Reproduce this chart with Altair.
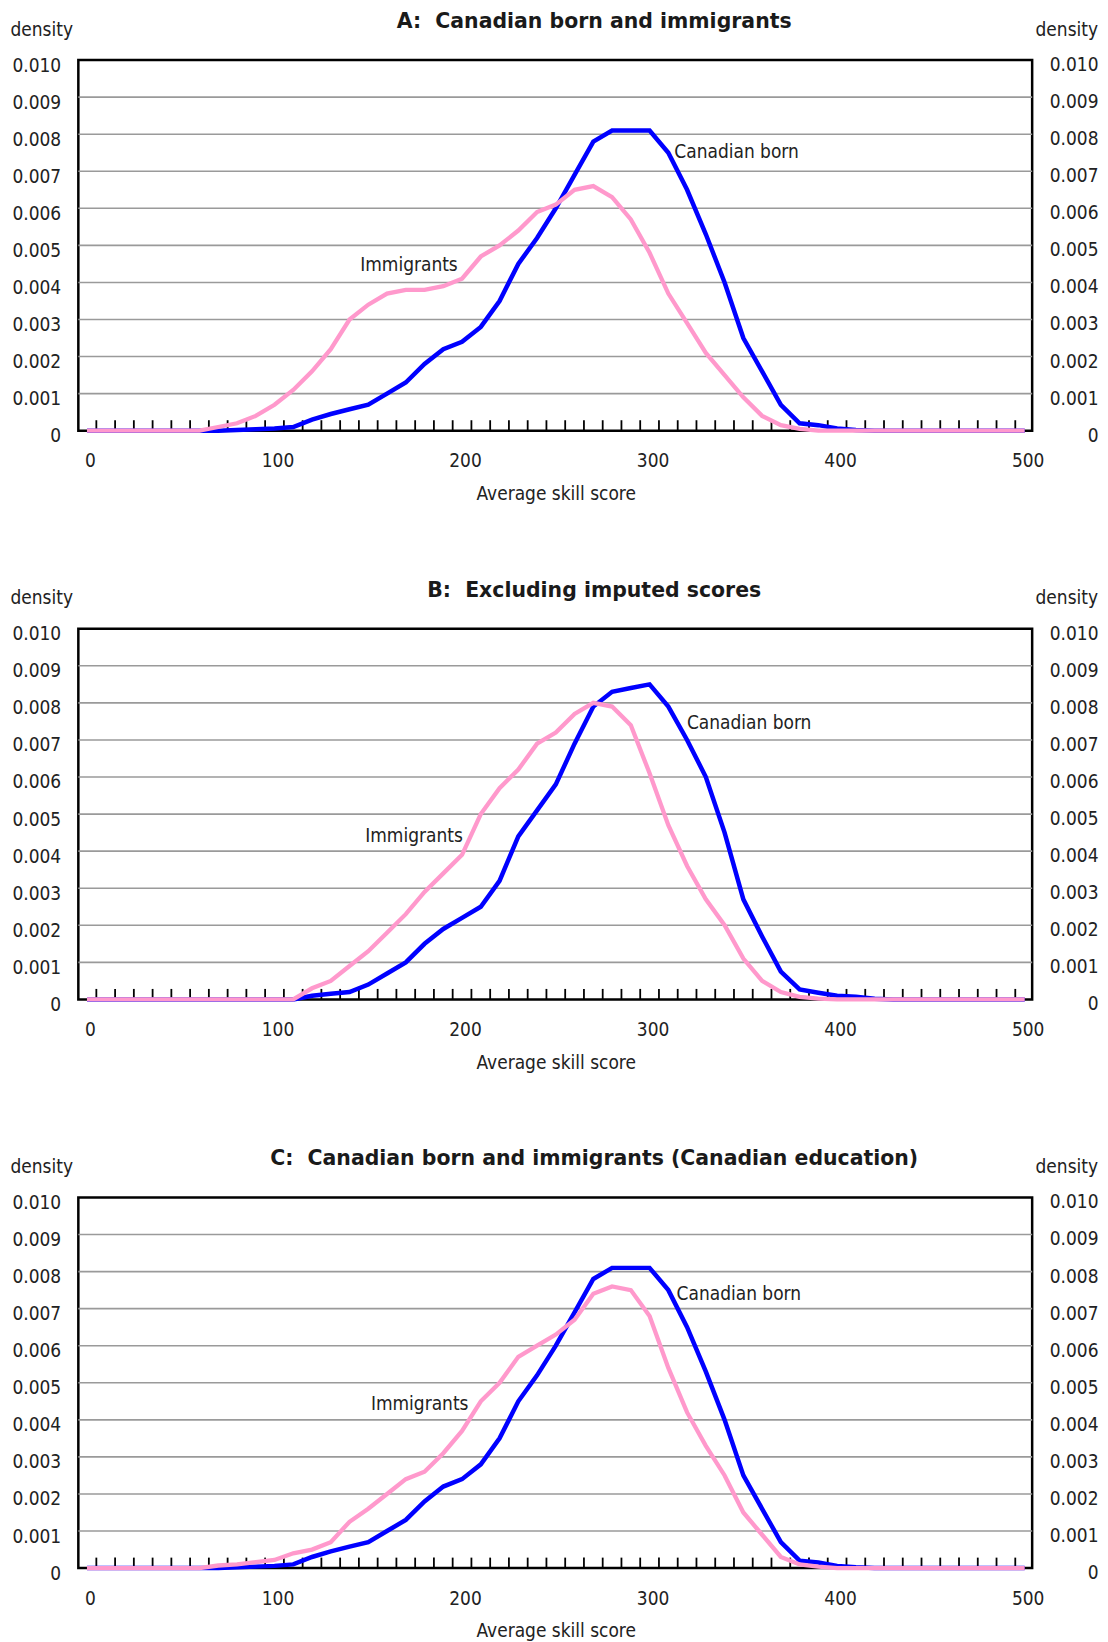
import altair as alt
import pandas as pd

# ---------------- data ----------------
scores = list(range(0, 501, 10))

canadian_born_A = [0, 0, 0, 0, 0, 0, 0, 0, 0.00002, 0.00004,
                   0.00006, 0.0001, 0.0003, 0.00045, 0.00058,
                   0.0007, 0.0010, 0.0013, 0.0018, 0.0022,
                   0.0024, 0.0028, 0.0035, 0.0045, 0.0052,
                   0.0060, 0.0069, 0.0078, 0.0081, 0.0081,
                   0.0081, 0.0075, 0.0065, 0.0053, 0.0040,
                   0.0025, 0.0016, 0.0007, 0.0002, 0.00015,
                   0.00006, 0.00002, 0, 0, 0, 0, 0, 0, 0, 0, 0]
immigrants_A = [0, 0, 0, 0, 0, 0, 0, 0.0001, 0.0002, 0.0004,
                0.0007, 0.0011, 0.0016, 0.0022, 0.0030,
                0.0034, 0.0037, 0.0038, 0.0038, 0.0039,
                0.0041, 0.0047, 0.0050, 0.0054, 0.0059,
                0.0061, 0.0065, 0.0066, 0.0063, 0.0057,
                0.0048, 0.0037, 0.0029, 0.0021, 0.0015,
                0.0009, 0.0004, 0.00015, 0.00005, 0,
                0, 0, 0, 0, 0, 0, 0, 0, 0, 0, 0]

canadian_born_B = [0, 0, 0, 0, 0, 0, 0, 0, 0, 0, 0, 0,
                   0.0001, 0.00015, 0.0002,
                   0.0004, 0.0007, 0.0010, 0.0015, 0.0019,
                   0.0022, 0.0025, 0.0032, 0.0044, 0.0051,
                   0.0058, 0.0069, 0.0079, 0.0083, 0.0084,
                   0.0085, 0.0079, 0.0070, 0.0060, 0.0045,
                   0.0027, 0.0017, 0.00075, 0.00027, 0.00018,
                   0.0001, 0.00007, 0.00002, 0, 0, 0, 0, 0, 0, 0, 0]
immigrants_B = [0, 0, 0, 0, 0, 0, 0, 0, 0, 0, 0, 0,
                0.0003, 0.0005, 0.0009,
                0.0013, 0.0018, 0.0023, 0.0029, 0.0034,
                0.0039, 0.0050, 0.0057, 0.0062, 0.0069,
                0.0072, 0.0077, 0.0080, 0.0079, 0.0074,
                0.0061, 0.0047, 0.0036, 0.0027, 0.0020,
                0.0011, 0.0005, 0.0002, 0.00007, 0.00002,
                0, 0, 0, 0, 0, 0, 0, 0, 0, 0, 0]

canadian_born_C = [0, 0, 0, 0, 0, 0, 0, 0, 0.00002, 0.00004,
                   0.00006, 0.0001, 0.0003, 0.00045, 0.00058,
                   0.0007, 0.0010, 0.0013, 0.0018, 0.0022,
                   0.0024, 0.0028, 0.0035, 0.0045, 0.0052,
                   0.0060, 0.0069, 0.0078, 0.0081, 0.0081,
                   0.0081, 0.0075, 0.0065, 0.0053, 0.0040,
                   0.0025, 0.0016, 0.0007, 0.0002, 0.00015,
                   0.00006, 0.00002, 0, 0, 0, 0, 0, 0, 0, 0, 0]
immigrants_C = [0, 0, 0, 0, 0, 0, 0, 0.00007, 0.0001, 0.00016,
                0.00022, 0.0004, 0.0005, 0.0007, 0.00125,
                0.0016, 0.0020, 0.0024, 0.0026, 0.0031,
                0.0037, 0.0045, 0.0050, 0.0057, 0.0060,
                0.0063, 0.0067, 0.0074, 0.0076, 0.0075,
                0.0068, 0.0054, 0.0042, 0.0033, 0.0025,
                0.0015, 0.0009, 0.0003, 0.0001, 0.00004,
                0, 0, 0, 0, 0, 0, 0, 0, 0, 0, 0]

panel_titles = ["A:\u00a0 Canadian born and immigrants",
                "B:\u00a0 Excluding imputed scores",
                "C:\u00a0 Canadian born and immigrants (Canadian education)"]
x_label_values = [0, 100, 200, 300, 400, 500]
minor_tick_values = list(range(5, 500, 10))
grid_values = [0.001, 0.002, 0.003, 0.004, 0.005, 0.006, 0.007, 0.008, 0.009]
y_tick_values = [0, 0.001, 0.002, 0.003, 0.004, 0.005, 0.006, 0.007, 0.008, 0.009, 0.010]
y_tick_labels = ["0", "0.001", "0.002", "0.003", "0.004", "0.005",
                 "0.006", "0.007", "0.008", "0.009", "0.010"]

immigrants_label_x = [171.7, 174.4, 177.4]
immigrants_label_y = [0.00431, 0.00426, 0.00426]
canadian_label_x = [313.2, 319.9, 314.4]
canadian_label_y = [0.00735, 0.0073, 0.00724]

series = [(canadian_born_A, immigrants_A),
          (canadian_born_B, immigrants_B),
          (canadian_born_C, immigrants_C)]

# ---------------- style ----------------
W, H = 956, 371.5
NARROW = "DejaVu Sans Condensed, Roboto, sans-serif"
BOLD = "DejaVu Sans"
FS = 19
TXT = "#222222"
BLUE = "#0000ff"
PINK = "#ff99cc"

x_scale = alt.Scale(domain=[-4.6, 504.0], nice=False, zero=False)
y_scale = alt.Scale(domain=[0, 0.010], nice=False, zero=True)

x_axis = alt.Axis(values=x_label_values, title=None, ticks=False, domain=False, grid=False,
                  labelFont=NARROW, labelFontSize=FS, labelColor=TXT, labelPadding=30,
                  labelBaseline="middle", labelOffset=3, labelFlush=False, labelOverlap=False)
y_axis = alt.Axis(values=y_tick_values, title=None, ticks=False, domain=False, grid=False,
                  labelFont=NARROW, labelFontSize=FS, labelColor=TXT, labelPadding=17.7,
                  labelBaseline="middle", labelOffset=5, labelFlush=False, labelOverlap=False,
                  labelExpr="datum.value == 0 ? '0' : format(datum.value, '.3f')")


def X():
    return alt.X("score:Q", scale=x_scale, axis=x_axis)


def Y():
    return alt.Y("density:Q", scale=y_scale, axis=y_axis)


def text_layer(t, x, y, align, baseline, font=NARROW, size=FS, weight="normal", color=TXT):
    return alt.Chart(pd.DataFrame({"t": [t]})).mark_text(
        align=align, baseline=baseline, font=font, fontSize=size, fontWeight=weight, color=color
    ).encode(x=alt.value(x), y=alt.value(y), text="t:N")


def panel(i):
    cb, im = series[i]
    df_cb = pd.DataFrame({"score": scores, "density": cb})
    df_im = pd.DataFrame({"score": scores, "density": im})

    grid = alt.Chart(pd.DataFrame({"density": grid_values})).mark_rule(
        color="#9a9a9a", strokeWidth=1.6
    ).encode(y=Y(), x=alt.value(0), x2=alt.value(W))

    ticks = alt.Chart(pd.DataFrame({"score": minor_tick_values})).mark_rule(
        color="black", strokeWidth=1.8
    ).encode(x=X(), y=alt.value(H - 10.5), y2=alt.value(H))

    blue = alt.Chart(df_cb).mark_line(color=BLUE, strokeWidth=4.5).encode(x=X(), y=Y())
    pink = alt.Chart(df_im).mark_line(color=PINK, strokeWidth=4.3).encode(x=X(), y=Y())

    right_labels = alt.Chart(pd.DataFrame({"density": y_tick_values, "lab": y_tick_labels})).mark_text(
        align="right", baseline="middle", dy=5, font=NARROW, fontSize=FS, color=TXT
    ).encode(y=Y(), x=alt.value(W + 66.5), text="lab:N")

    ann_imm = alt.Chart(pd.DataFrame({"score": [immigrants_label_x[i]],
                                      "density": [immigrants_label_y[i]],
                                      "txt": ["Immigrants"]})).mark_text(
        align="center", baseline="alphabetic", font=NARROW, fontSize=FS, color=TXT
    ).encode(x=X(), y=Y(), text="txt:N")
    ann_cb = alt.Chart(pd.DataFrame({"score": [canadian_label_x[i]],
                                     "density": [canadian_label_y[i]],
                                     "txt": ["Canadian born"]})).mark_text(
        align="left", baseline="alphabetic", font=NARROW, fontSize=FS, color=TXT
    ).encode(x=X(), y=Y(), text="txt:N")

    title = text_layer(panel_titles[i], 517, -32.3, "center", "alphabetic",
                       font=BOLD, size=20.5, weight="bold", color="#1a1a1a")
    dens_l = text_layer("density", -68, -24.5, "left", "alphabetic")
    dens_r = text_layer("density", W + 66, -24.5, "right", "alphabetic")
    xtitle = text_layer("Average skill score", W / 2 + 1, H + 69.5, "center", "alphabetic")

    return alt.layer(grid, ticks, blue, pink, right_labels, ann_imm, ann_cb,
                     title, dens_l, dens_r, xtitle).properties(width=W, height=H)


chart = alt.vconcat(panel(0), panel(1), panel(2), spacing=198, bounds="flush").properties(
    padding={"left": 0.5, "top": 0.3, "right": 0, "bottom": 0},
    background="white",
).configure_view(stroke="black", strokeWidth=2.5)

chart.save("out.html", embed_options={"renderer": "svg", "actions": False})
